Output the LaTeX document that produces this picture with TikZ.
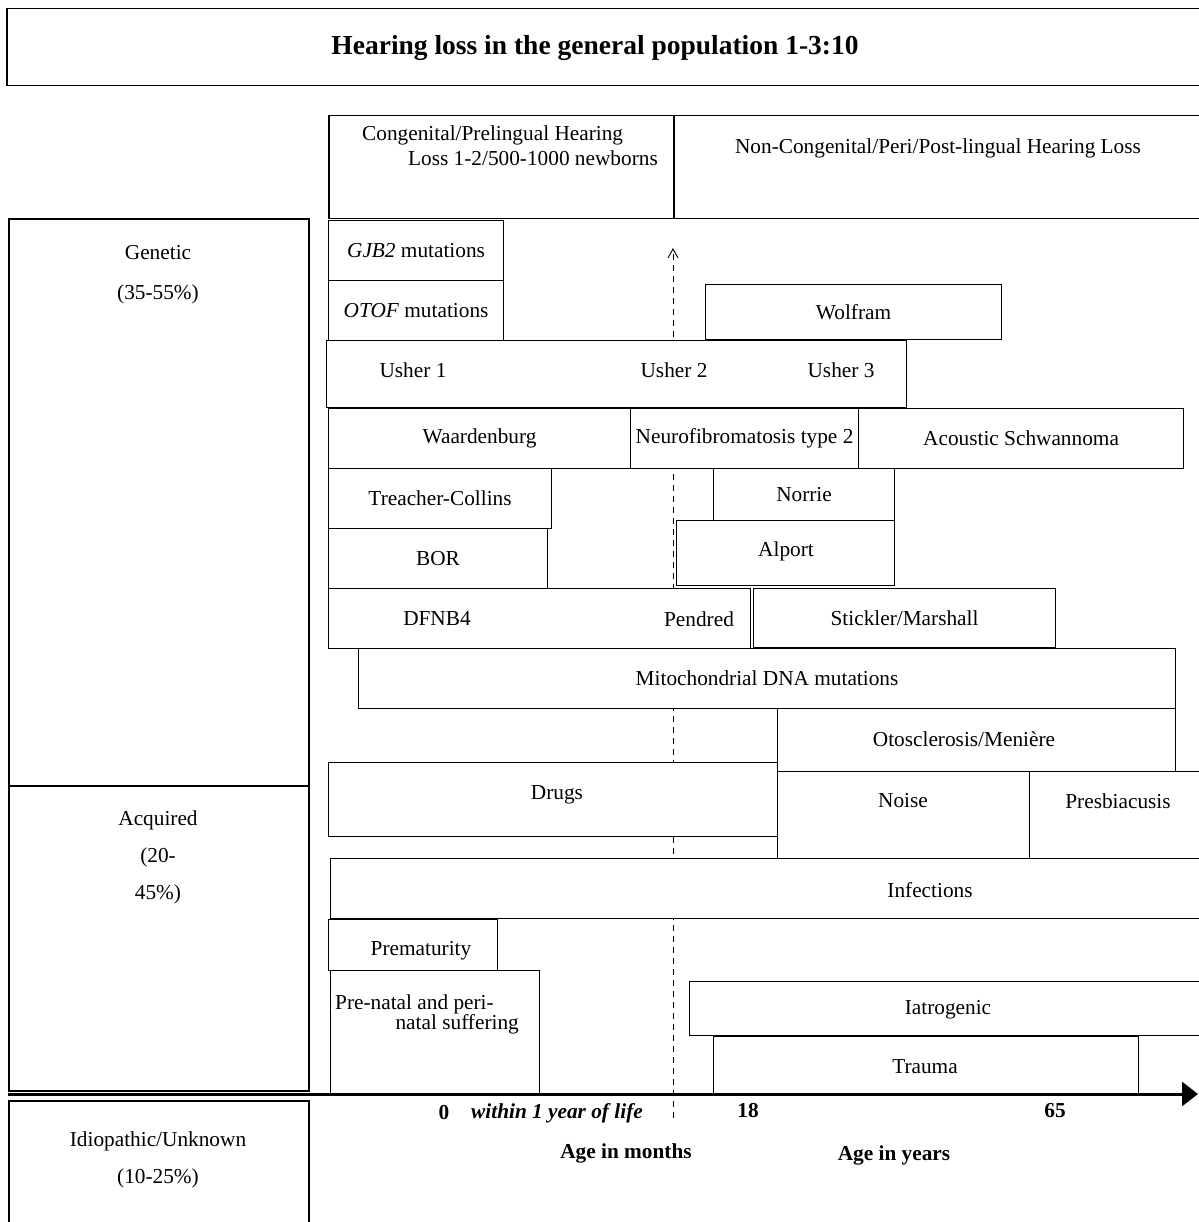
\documentclass[tikz,border=0pt]{standalone}
\usepackage{fontspec}
\setmainfont{Liberation Serif}
\usetikzlibrary{arrows.meta,positioning}
\newcommand\fs{\fontsize{21.3}{23}\selectfont}
\tikzset{bar/.style={draw,fill=white,line width=1.1pt,anchor=north west,inner sep=0pt,font=\fs},
  side/.style={draw,line width=2pt,anchor=north west,inner sep=0pt},
  txt/.style={font=\fs,inner sep=0pt},axlbl/.style={font=\fs\bfseries,inner sep=0pt},
  timeline/.style={line width=3pt,-{Triangle[length=16pt,width=24pt]}}}

\begin{document}
\begin{tikzpicture}[x=1pt,y=-1pt]
\useasboundingbox (0,0) rectangle (1198,1222);
% title and headings
\node[side,line width=1.5pt,minimum width=1210,minimum height=77] (title) at (6,8) {};
\node[txt,font=\fontsize{27.5}{30}\selectfont\bfseries] at (595,48) {Hearing loss in the general population 1-3:10};
\node[bar,line width=1.5pt,minimum width=345,minimum height=103] (cong) at (328,115) {};
\node[txt,anchor=west] at (362,135) {Congenital/Prelingual Hearing};
\node[txt,anchor=east] at (658,158) {Loss 1-2/500-1000 newborns};
\node[bar,line width=1.5pt,minimum width=540,minimum height=103] (noncong) at (673,115) {};
\node[txt] at (938,148) {Non-Congenital/Peri/Post-lingual Hearing Loss};
% categories
\node[side,minimum width=300,minimum height=567] (gen) at (8,218) {};
\node[txt] at (158,253) {Genetic};\node[txt] at (158,294) {(35-55\%)};
\node[side,minimum width=300,minimum height=305] (acq) at (8,785) {};
\node[txt] at (158,820) {Acquired};\node[txt] at (158,857) {(20-};\node[txt] at (158,894) {45\%)};
\node[side,minimum width=300,minimum height=140] (idio) at (8,1100) {};
\node[txt] at (158,1141) {Idiopathic/Unknown};\node[txt] at (158,1178) {(10-25\%)};
% 1 year mark
\coordinate (dtop) at (673,248);\coordinate (dbot) at (673,1118);
\draw[dash pattern=on 6pt off 5pt,line width=0.9pt,-{Straight Barb[length=9pt,width=10pt]}] (dbot)--(dtop);
% genetic causes
\node[bar,minimum width=175,minimum height=60] (gjb) at (328,220) {\textit{GJB2} mutations};
\node[bar,minimum width=175,minimum height=60] (otof) at (328,280) {\textit{OTOF} mutations};
\node[bar,minimum width=296,minimum height=55] (wolf) at (705,284) {Wolfram};
\node[bar,minimum width=580,minimum height=67] (usher) at (326,340) {};
\node[txt] at (413,370) {Usher 1};\node[txt] at (674,370) {Usher 2};\node[txt] at (841,370) {Usher 3};
\node[bar,minimum width=302,minimum height=60] (waar) at (328,408) {Waardenburg};
\node[bar,minimum width=228,minimum height=60] (nf2) at (630,408) {Neurofibromatosis type 2};
\node[bar,minimum width=325,minimum height=60] (acou) at (858,408) {Acoustic Schwannoma};
\node[bar,minimum width=223,minimum height=60] (treach) at (328,468) {Treacher-Collins};
\node[bar,minimum width=181,minimum height=52] (norrie) at (713,468) {Norrie};
\node[bar,minimum width=219,minimum height=60] (bor) at (328,528) {BOR};
\node[bar,minimum width=218,minimum height=65] (alport) at (676,520) {};
\node[txt] at (786,551) {Alport};
\node[bar,minimum width=422,minimum height=60] (dfnb) at (328,588) {};
\node[txt] at (437,619) {DFNB4};\node[txt] at (699,619) {Pendred};
\node[bar,minimum width=302,minimum height=59] (stick) at (753,588) {Stickler/Marshall};
\node[bar,minimum width=817,minimum height=60] (mito) at (358,648) {Mitochondrial DNA mutations};
\node[bar,minimum width=398,minimum height=63] (oto) at (777,708) {};
\node[txt] at (964,739) {Otosclerosis/Menière};
% acquired causes
\node[bar,minimum width=449,minimum height=74] (drugs) at (328,762) {};
\node[txt] at (557,795) {Drugs};
\node[bar,minimum width=252,minimum height=87] (noise) at (777,771) {};
\node[txt] at (903,801) {Noise};
\node[bar,minimum width=180,minimum height=87] (presb) at (1029,771) {};
\node[txt] at (1118,801) {Presbiacusis};
\node[bar,minimum width=880,minimum height=60] (inf) at (330,858) {};
\node[txt] at (930,890) {Infections};
\node[bar,minimum width=169,minimum height=51] (prem) at (328,919) {};
\node[txt] at (421,951) {Prematurity};
\node[bar,minimum width=209,minimum height=123] (prenat) at (330,970) {};
\node[txt,anchor=west] at (335,1004) {Pre-natal and peri-};\node[txt,anchor=east] at (519,1024) {natal suffering};
\node[bar,minimum width=520,minimum height=54] (iatro) at (689,981) {};
\node[txt] at (948,1010) {Iatrogenic};
\node[bar,minimum width=425,minimum height=57] (trauma) at (713,1036) {};
\node[txt] at (925,1067) {Trauma};
% age axis
\coordinate (axl) at (8,1094);\coordinate (axr) at (1198,1094);
\draw[timeline] (axl)--(axr);
\node[axlbl] at (444,1113) {0};
\node[axlbl,font=\fs\bfseries\itshape,anchor=west] at (471,1113) {within 1 year of life};
\node[axlbl] at (748,1111) {18};\node[axlbl] at (1055,1111) {65};
\node[axlbl] at (626,1153) {Age in months};\node[axlbl] at (894,1155) {Age in years};
\end{tikzpicture}
\end{document}
